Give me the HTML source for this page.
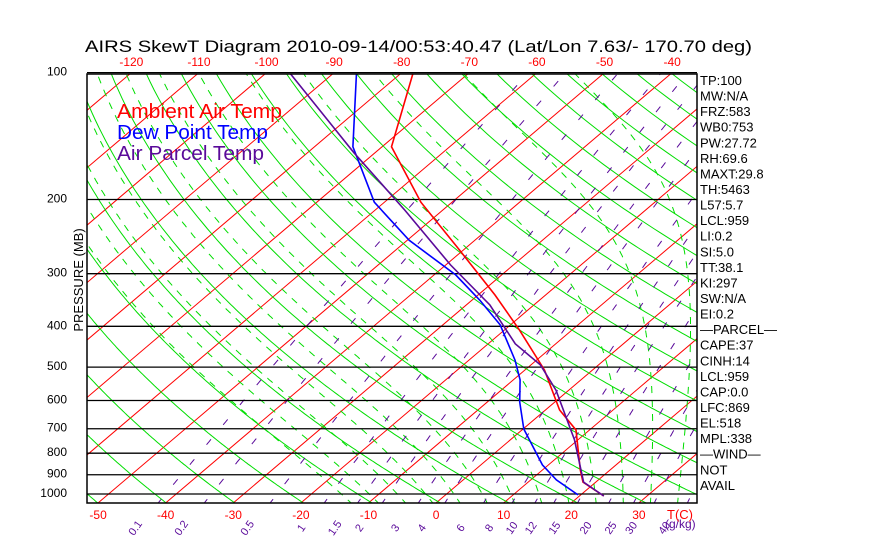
<!DOCTYPE html>
<html><head><meta charset="utf-8"><style>
html,body{margin:0;padding:0;background:#fff;overflow:hidden;}
svg{display:block;font-family:"Liberation Sans",sans-serif;}
</style></head><body>
<svg id="chart" width="870" height="560" viewBox="0 0 870 560">
<rect width="870" height="560" fill="#fff"/>
<defs><clipPath id="plotclip"><rect x="87" y="74" width="610" height="429"/></clipPath></defs>
<text x="85" y="52" font-size="17" textLength="667" lengthAdjust="spacingAndGlyphs">AIRS SkewT Diagram 2010-09-14/00:53:40.47 (Lat/Lon 7.63/- 170.70 deg)</text>
<g id="bg" clip-path="url(#plotclip)"></g>
<g id="plines"></g>
<g id="series" clip-path="url(#plotclip)"></g>
<rect x="87" y="74" width="610" height="429" fill="none" stroke="#000" stroke-width="1.5"/>
<g font-size="20">
<text x="117" y="118" fill="#f00" textLength="165" lengthAdjust="spacingAndGlyphs">Ambient Air Temp</text>
<text x="117" y="139" fill="#00f" textLength="151" lengthAdjust="spacingAndGlyphs">Dew Point Temp</text>
<text x="117" y="160" fill="#5a0a9a" textLength="147" lengthAdjust="spacingAndGlyphs">Air Parcel Temp</text>
</g>
<text transform="translate(83,280) rotate(-90)" text-anchor="middle" font-size="13">PRESSURE (MB)</text>
<g id="labels"></g>
</svg>
<script>
const isoTemps=[-160,-150,-140,-130,-120,-110,-100,-90,-80,-70,-60,-50,-40,-30,-20,-10,0,10,20,30,40,50];
const thetas=[200,210,220,230,240,250,260,270,280,290,300,310,320,330,340,350,360,370,380,390,400,410,420,430,440,450,460,470,480,490,500,510,520];
const moistStarts=[-12,-8,-4,0,4,8,12,16,20,24,28,32,36,40,44];
const mixRatios=[0.1,0.2,0.5,1,1.5,2,3,4,6,8,10,12,15,20,25,30,40];
const mixLabels=["0.1","0.2","0.5","1","1.5","2","3","4","6","8","10","12","15","20","25","30","40"];
const pLevels=[100,200,300,400,500,600,700,800,900,1000];
const bottomTicks=[-50,-40,-30,-20,-10,0,10,20,30];
const topTicks=[-120,-110,-100,-90,-80,-70,-60,-50,-40];
const envP=[100,150,203,264,337,408,508,632,705,877,937,1011];
const envT=[-78.3,-68.6,-54.6,-40.5,-27.5,-17.8,-7.1,2.1,8.0,15.6,18.1,23.6];
const dewP=[100,150,161,203,250,302,347,397,481,536,605,701,853,926,1005];
const dewT=[-86.7,-74.3,-71.3,-61.5,-49.7,-36.8,-28.8,-21.5,-13.2,-9.0,-5.2,0.1,9.1,13.8,19.6];
const parP=[100,155,212,286,356,440,494,567,744,877,937,1011];
const parT=[-96.6,-73.1,-55.6,-39.3,-26.5,-16.0,-8.6,-1.9,9.5,15.7,18.2,23.6];
const infoLines=["TP:100","MW:N/A","FRZ:583","WB0:753","PW:27.72","RH:69.6","MAXT:29.8","TH:5463","L57:5.7","LCL:959","LI:0.2","SI:5.0","TT:38.1","KI:297","SW:N/A","EI:0.2","\u2014PARCEL\u2014","CAPE:37","CINH:14","LCL:959","CAP:0.0","LFC:869","EL:518","MPL:338","\u2014WIND\u2014","NOT","AVAIL"];

const NS="http://www.w3.org/2000/svg";
const X0=436,K=6.76,SK=1.177,YB=503,Y1000=494,SP=183;
function yOf(p){return Y1000+SP*Math.log(p/1000);}
function xOf(T,p){return X0+K*T+SK*(YB-yOf(p));}
function mk(tag,attrs,parent){const e=document.createElementNS(NS,tag);for(const k in attrs)e.setAttribute(k,attrs[k]);parent.appendChild(e);return e;}
function pathFrom(pts){return pts.map((q,i)=>(i?"L":"M")+q[0].toFixed(1)+","+q[1].toFixed(1)).join("");}
const bg=document.getElementById("bg"),series=document.getElementById("series"),labels=document.getElementById("labels"),plines=document.getElementById("plines");
const pGrid=[];for(let p=1060;p>=95;p-=5)pGrid.push(p);

isoTemps.forEach(T=>{
  const e=mk("line",{x1:xOf(T,1060),y1:yOf(1060),x2:xOf(T,95),y2:yOf(95),stroke:"#f00","stroke-width":1},bg);
  
  
});
thetas.forEach(th=>{
  const pts=pGrid.map(p=>[xOf(th*Math.pow(p/1000,0.286)-273.15,p),yOf(p)]);
  const e=mk("path",{d:pathFrom(pts),fill:"none",stroke:"#0d0","stroke-width":1},bg);
  
  
});
function es(T){return 6.112*Math.exp(17.67*T/(T+243.5));}
moistStarts.forEach(t0=>{
  let T=t0+273.15,pts=[];
  for(let p=1060;p>=95;p-=2){
    pts.push([xOf(T-273.15,p),yOf(p)]);
    const e=es(T-273.15),rs=0.622*e/(p-e),Lv=2.5e6,Rd=287,cp=1005;
    const dTdp=(Rd*T+Lv*rs)/(p*(cp+Lv*Lv*rs*0.622/(Rd*T*T)));
    T-=dTdp*2;
  }
  const e=mk("path",{d:pathFrom(pts),fill:"none",stroke:"#0d0","stroke-width":1,"stroke-dasharray":"7 7"},bg);
  
  
});
mixRatios.forEach((w,i)=>{
  const pts=pGrid.map(p=>{const e=w*p/(622+w),l=Math.log(e/6.112);return [xOf(243.5*l/(17.67-l),p),yOf(p)];});
  const e=mk("path",{d:pathFrom(pts),fill:"none",stroke:"#5a0a9a","stroke-width":1,"stroke-dasharray":"7 19"},bg);
  
  
  const e2=w*1050/(622+w),l2=Math.log(e2/6.112),xb=xOf(243.5*l2/(17.67-l2),1050)-20;
  const t=mk("text",{x:0,y:0,transform:"translate("+xb.toFixed(1)+",530) rotate(-55)","font-size":11,fill:"#5a0a9a","text-anchor":"middle"},labels);
  t.textContent=mixLabels[i];
  
  
});
const gk=mk("text",{x:665,y:528,"font-size":12,fill:"#5a0a9a"},labels);gk.textContent="(g/kg)";



pLevels.forEach(p=>{
  const y=yOf(p);
  const l=mk("line",{x1:87,y1:y,x2:697,y2:y,stroke:"#000","stroke-width":1.3},plines);
  
  
  const t=mk("text",{x:67,y:y+3,"font-size":12,"text-anchor":"end"},labels);t.textContent=p;
  
  
});
bottomTicks.forEach(T=>{
  const t=mk("text",{x:xOf(T,1050),y:519,"font-size":12,fill:"#f00","text-anchor":"middle"},labels);t.textContent=T;
  
  
});
const tc=mk("text",{x:667,y:519,"font-size":13,fill:"#f00"},labels);tc.textContent="T(C)";


topTicks.forEach(T=>{
  const t=mk("text",{x:xOf(T,100),y:66,"font-size":12,fill:"#f00","text-anchor":"middle"},labels);t.textContent=T;
  
  
});
infoLines.forEach((s,i)=>{
  const t=mk("text",{x:700,y:85+i*15.57,"font-size":13},labels);t.textContent=s;
  
  
});
function drawSeries(P,T,color,name){
  const pts=P.map((p,i)=>[xOf(T[i],p),yOf(p)]);
  const e=mk("path",{d:pathFrom(pts),fill:"none",stroke:color,"stroke-width":1.6},series);
  
  
}
drawSeries(dewP,dewT,"#00f","dewpoint-line");
drawSeries(envP,envT,"#f00","ambient-temp-line");
drawSeries(parP,parT,"#5a0a9a","parcel-temp-line");
</script>
</body></html>
